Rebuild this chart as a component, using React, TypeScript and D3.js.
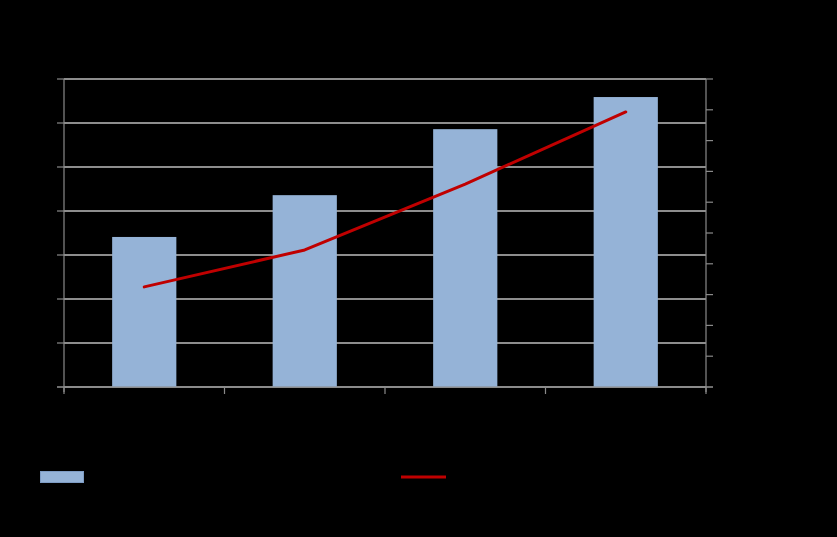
import React from "react";
import * as d3 from "d3";

const categories = ["A", "B", "C", "D"];
const barValues = [3.41, 4.36, 5.86, 6.59];
const lineValues = [3.25, 4.45, 6.59, 8.93];
const leftTicks = [0, 1, 2, 3, 4, 5, 6, 7];
const rightTicks = [0, 1, 2, 3, 4, 5, 6, 7, 8, 9, 10];

const W = 837;
const H = 537;
const M = { left: 64, right: 706, top: 79, bottom: 387 };

export default function App() {
  const x = d3
    .scaleBand<string>()
    .domain(categories)
    .range([M.left, M.right])
    .paddingInner(0.6)
    .paddingOuter(0.3);
  const xOuter = d3.scaleBand<string>().domain(categories).range([M.left, M.right]);
  const yL = d3.scaleLinear().domain([0, 7]).range([M.bottom, M.top]);
  const yR = d3.scaleLinear().domain([0, 10]).range([M.bottom, M.top]);
  const line = d3
    .line<number>()
    .x((_, i) => (xOuter(categories[i]) as number) + xOuter.bandwidth() / 2)
    .y((d) => yR(d));
  const grid = "#bdbdbd";
  const axis = "#8a8a8a";
  const xTicks = [...categories.map((c) => xOuter(c) as number), M.right];
  return (
    <div style={{ position: "fixed", left: 0, top: 0, width: W, height: H, background: "#000" }}>
      <svg width={W} height={H} style={{ display: "block", background: "#000" }}>
        {leftTicks.map((t) => (
          <line key={"g" + t} x1={M.left} x2={M.right} y1={yL(t)} y2={yL(t)} stroke={grid} strokeWidth={1.3} />
        ))}
        {leftTicks.map((t) => (
          <line key={"lt" + t} x1={M.left - 7} x2={M.left} y1={yL(t)} y2={yL(t)} stroke={axis} strokeWidth={1.2} />
        ))}
        {rightTicks.map((t) => (
          <line key={"rt" + t} x1={M.right} x2={M.right + 7} y1={yR(t)} y2={yR(t)} stroke={axis} strokeWidth={1.2} />
        ))}
        {categories.map((c, i) => (
          <rect
            key={c}
            x={x(c)}
            y={yL(barValues[i])}
            width={x.bandwidth()}
            height={M.bottom - yL(barValues[i])}
            fill="#95B3D7"
          />
        ))}
        <line x1={M.left} x2={M.left} y1={M.top} y2={M.bottom + 5} stroke={axis} strokeWidth={1.2} />
        <line x1={M.right} x2={M.right} y1={M.top} y2={M.bottom + 5} stroke={axis} strokeWidth={1.2} />
        <line x1={M.left - 7} x2={M.right + 7} y1={M.bottom} y2={M.bottom} stroke={axis} strokeWidth={1.2} />
        {xTicks.map((t, i) => (
          <line key={"xt" + i} x1={t} x2={t} y1={M.bottom} y2={M.bottom + 7} stroke={axis} strokeWidth={1.2} />
        ))}
        <path d={line(lineValues) as string} fill="none" stroke="#C00000" strokeWidth={3} strokeLinejoin="round" strokeLinecap="round" />
        <rect x={40.5} y={471.5} width={43} height={11} fill="#95B3D7" stroke="#7e9cc4" strokeWidth={1} />
        <line x1={401} x2={446} y1={477} y2={477} stroke="#C00000" strokeWidth={3} />
      </svg>
    </div>
  );
}
